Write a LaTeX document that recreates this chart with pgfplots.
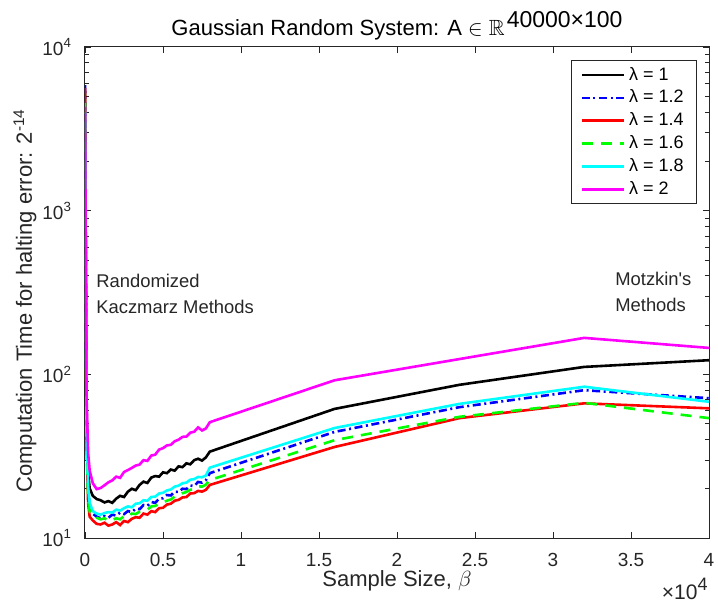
\documentclass[border=0pt]{standalone}
\usepackage{amssymb}
\usepackage{fontspec}
\setmainfont{Liberation Sans}
\usepackage{pgfplots}
\pgfplotsset{compat=1.18}

\definecolor{mblue}{rgb}{0,0,1}
\definecolor{mred}{rgb}{1,0,0}
\definecolor{mgreen}{rgb}{0,1,0}
\definecolor{mcyan}{rgb}{0,1,1}
\definecolor{mmag}{rgb}{1,0,1}

% beta, time (one table per lambda)
\pgfplotstableread{
x y
1 5400
100 62
200 24.8
300 20.1
500 18.1
750 17.3
1000 17.0
1250 16.5
1500 16.8
1750 16.4
2000 17.4
2250 18.1
2500 17.8
2750 19.2
3000 20.0
3250 19.6
3500 21.1
3750 22.1
4000 21.7
4250 23.4
4500 23.9
4750 23.7
5000 25.2
5250 24.9
5500 26.2
5750 25.8
6000 27.4
6250 27.1
6500 28.6
6750 28.2
7000 29.9
7250 30.5
7500 29.7
7750 31.1
8000 33.7
16000 61.5
24000 86.3
32000 111
40000 122
}\lamA
\pgfplotstableread{
x y
1 5850
100 46.5
200 19.5
300 15.9
500 14.1
750 13.5
1000 13.2
1250 13.6
1500 13.3
1750 13.9
2000 13.7
2250 14.3
2500 14.0
2750 14.6
3000 14.4
3250 15.1
3500 15.0
3750 15.9
4000 15.7
4250 16.6
4500 16.4
4750 17.4
5000 17.5
5250 18.3
5500 18.2
5750 19.2
6000 19.1
6250 20.0
6500 19.9
6750 20.9
7000 20.8
7250 22.0
7500 21.8
7750 22.6
8000 24.9
16000 44.5
24000 63
32000 80
40000 71.5
}\lamB
\pgfplotstableread{
x y
1 5600
100 39
200 16.4
300 13.5
500 12.8
750 12.2
1000 12.1
1250 12.4
1500 11.9
1750 12.1
2000 12.5
2250 12.0
2500 12.7
2750 12.5
3000 13.1
3250 13.4
3500 13.3
3750 14.1
4000 13.9
4250 14.6
4500 14.4
4750 15.2
5000 15.3
5250 16.0
5500 16.2
5750 16.9
6000 17.1
6250 17.7
6500 17.8
6750 18.7
7000 18.8
7250 19.4
7500 19.2
7750 19.7
8000 21.1
16000 36.0
24000 54.0
32000 66.5
40000 62
}\lamC
\pgfplotstableread{
x y
1 4550
100 41
200 17.4
300 14.5
500 13.6
750 13.3
1000 13.0
1250 13.2
1500 12.7
1750 12.9
2000 13.2
2250 13.0
2500 13.6
2750 13.5
3000 14.1
3250 14.0
3500 14.5
3750 14.7
4000 14.9
4250 15.6
4500 15.7
4750 16.2
5000 16.5
5250 16.9
5500 17.2
5750 17.9
6000 18.2
6250 18.8
6500 19.1
6750 19.7
7000 20.0
7250 20.7
7500 20.6
7750 21.2
8000 22.6
16000 39.6
24000 55
32000 67
40000 54
}\lamD
\pgfplotstableread{
x y
1 4000
100 51.5
200 20.5
300 16.4
500 14.6
750 14.1
1000 13.9
1250 14.2
1500 14.4
1750 14.3
2000 14.9
2250 14.7
2500 15.2
2750 15.6
3000 15.4
3250 16.2
3500 16.3
3750 17.0
4000 16.9
4250 17.8
4500 17.9
4750 18.7
5000 18.9
5250 19.5
5500 19.8
5750 20.6
6000 20.9
6250 21.6
6500 21.8
6750 22.7
7000 22.9
7250 23.6
7500 23.5
7750 24.1
8000 26.9
16000 47
24000 66
32000 84
40000 68
}\lamE
\pgfplotstableread{
x y
1 4300
100 72
200 33
300 25.8
500 21.6
750 19.9
1000 20.2
1250 21.0
1500 21.9
1750 22.5
2000 23.7
2250 23.3
2500 25.3
2750 26.0
3000 26.8
3250 27.7
3500 28.1
3750 29.9
4000 29.6
4250 31.9
4500 32.3
4750 34.7
5000 35.4
5250 36.8
5500 37.1
5750 39.0
6000 39.9
6250 41.5
6500 41.7
6750 44.0
7000 44.6
7250 47.4
7500 45.4
7750 46.7
8000 51
16000 92
24000 124
32000 167
40000 145
}\lamF

\begin{document}
\begin{tikzpicture}
\begin{axis}[
    width=312pt, height=245.5pt, scale only axis,
    ymode=log,
    xmin=0, xmax=40000, ymin=10, ymax=10000,
    xtick={0,5000,...,40000},
    xticklabels={0,0.5,1,1.5,2,2.5,3,3.5,4},
    scaled x ticks=false,
    xticklabel style={yshift=-4pt},
    yticklabel style={xshift=-3pt},
    ytick={10,100,1000,10000},
    yticklabels={10\textsuperscript{1},10\textsuperscript{2},10\textsuperscript{3},10\textsuperscript{4}},
    tick label style={font=\fontsize{9.5}{11}\selectfont, color=black!85},
    tick align=inside, tick pos=both,
    major tick length=3pt, minor tick length=1.8pt,
    every tick/.style={black!85},
    axis line style={black!85, line width=0.5pt},
    title={Gaussian Random System: A $\in\mathbb{R}$\kern1pt\raisebox{0.75ex}{\fontsize{11.5}{12}\selectfont 40000×100}},
    every axis title/.style={at={(rel axis cs:0.5,1)}, anchor=base, yshift=5.5pt,
        font=\fontsize{11}{12}\selectfont, inner sep=0pt},
    xlabel={Sample Size, $\beta$},
    every axis x label/.style={at={(rel axis cs:0.5,0)}, anchor=base, yshift=-24pt,
        font=\fontsize{11}{12}\selectfont, color=black!85, inner sep=0pt},
    ylabel={Computation Time for halting error: 2\textsuperscript{-14}},
    every axis y label/.style={at={(rel axis cs:0,0.5)}, rotate=90, anchor=center,
        yshift=30pt, xshift=-4pt, font=\fontsize{11}{12}\selectfont, color=black!85, inner sep=0pt},
    legend style={at={(rel axis cs:1,1)}, anchor=north east, xshift=-6pt, yshift=-6.5pt,
        draw=black!85, font=\fontsize{9}{11}\selectfont, row sep=0.8pt,
        inner xsep=4.5pt, inner ysep=2pt, nodes={inner ysep=1.3pt}},
    legend cell align=left,
    legend image code/.code={\draw[#1] (0cm,0cm) -- (21pt,0cm);},
    every axis plot/.append style={line width=1.3pt},
]
\addplot[black] table {\lamA};
\addlegendentry{λ = 1}
\addplot[mblue, dash pattern=on 4pt off 1.8pt on 1pt off 1.8pt] table {\lamB};
\addlegendentry{λ = 1.2}
\addplot[mred] table {\lamC};
\addlegendentry{λ = 1.4}
\addplot[mgreen, dash pattern=on 5.5pt off 4pt] table {\lamD};
\addlegendentry{λ = 1.6}
\addplot[mcyan] table {\lamE};
\addlegendentry{λ = 1.8}
\addplot[mmag] table {\lamF};
\addlegendentry{λ = 2}

\node[anchor=west, align=left, inner xsep=0pt, font=\fontsize{9.2}{13}\selectfont, text=black!85] at (axis cs:700,310) {Randomized\\Kaczmarz Methods};
\node[anchor=west, align=left, inner xsep=0pt, font=\fontsize{9.2}{13}\selectfont, text=black!85] at (axis cs:33970,320) {Motzkin\textquotesingle s\\Methods};
\end{axis}
\node[anchor=base east, inner sep=0pt, font=\fontsize{10.5}{12}\selectfont, text=black!85]
    at ([shift={(-0.5pt,-30.5pt)}]current axis.south east) {×10\raisebox{0.8ex}{\fontsize{9}{10}\selectfont 4}};
\pgfresetboundingbox
\path[use as bounding box] ([shift={(-42.5pt,-32pt)}]current axis.south west)
    rectangle ([shift={(4.5pt,23.5pt)}]current axis.north east);
\end{tikzpicture}
\end{document}
